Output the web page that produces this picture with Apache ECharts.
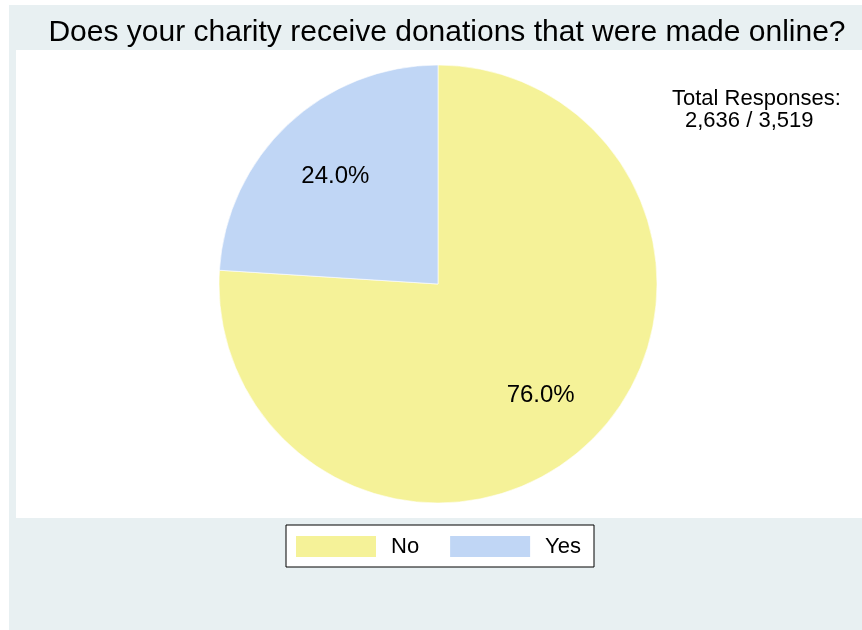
<!DOCTYPE html>
<html>
<head>
<meta charset="utf-8">
<script src="https://cdn.jsdelivr.net/npm/echarts@6/dist/echarts.min.js"></script>
<style>
html,body{margin:0;padding:0;background:#ffffff;}
#chart{width:862px;height:630px;}
</style>
</head>
<body>
<div id="chart"></div>
<script>
const titleText = 'Does your charity receive donations that were made online?';
const categories = ['No', 'Yes'];
const values = [76.0, 24.0];
const colors = ['#f5f298', '#c0d6f5'];
const totalLines = ['Total Responses:', '2,636 / 3,519'];

const FONT = '"Liberation Sans", Arial, Helvetica, sans-serif';
const chart = echarts.init(document.getElementById('chart'), null, {renderer: 'canvas'});
const pieData = categories.map((c, i) => ({name: c, value: values[i], itemStyle: {color: colors[i]}}));

chart.setOption({
  backgroundColor: '#ffffff',
  animation: false,
  title: {
    text: titleText,
    left: 442,
    top: 13,
    textAlign: 'center',
    textStyle: {fontFamily: FONT, fontSize: 30, fontWeight: 'normal', color: '#000'}
  },
  graphic: [
    {type: 'rect', z: -10, silent: true, shape: {x: 9, y: 5, width: 853, height: 625}, style: {fill: '#e8f0f2'}},
    {type: 'rect', z: -9, silent: true, shape: {x: 16, y: 50, width: 846, height: 468}, style: {fill: '#ffffff'}},
    {type: 'text', z: 10, left: 672, top: 88, style: {text: totalLines[0], font: '22px ' + FONT, fill: '#000'}},
    {type: 'text', z: 10, left: 685, top: 110, style: {text: totalLines[1], font: '22px ' + FONT, fill: '#000'}}
  ],
  legend: {
    data: categories,
    left: 286,
    top: 525,
    orient: 'horizontal',
    backgroundColor: '#ffffff',
    borderColor: '#000000',
    borderWidth: 1,
    borderRadius: 0,
    padding: [9, 13, 8, 8],
    itemWidth: 82,
    itemHeight: 23,
    itemGap: 29,
    icon: 'rect',
    selectedMode: false,
    textStyle: {fontFamily: FONT, fontSize: 22, color: '#000', padding: [0, 0, 0, 9]}
  },
  series: [
    {
      type: 'pie',
      center: [438, 284],
      radius: [0, 219],
      startAngle: 90,
      clockwise: true,
      data: pieData,
      itemStyle: {borderColor: '#ffffff', borderWidth: 0.6},
      label: {show: false},
      labelLine: {show: false},
      emphasis: {disabled: true}
    },
    {
      type: 'pie',
      center: [438, 286],
      radius: [75, 219],
      startAngle: 90,
      clockwise: true,
      silent: true,
      data: categories.map((c, i) => ({name: c, value: values[i], itemStyle: {color: 'rgba(0,0,0,0)'}})),
      itemStyle: {borderWidth: 0},
      label: {
        show: true,
        position: 'inside',
        formatter: p => p.value.toFixed(1) + '%',
        fontFamily: FONT,
        fontSize: 24,
        color: '#000'
      },
      labelLine: {show: false},
      emphasis: {disabled: true}
    }
  ]
});
</script>
</body>
</html>
